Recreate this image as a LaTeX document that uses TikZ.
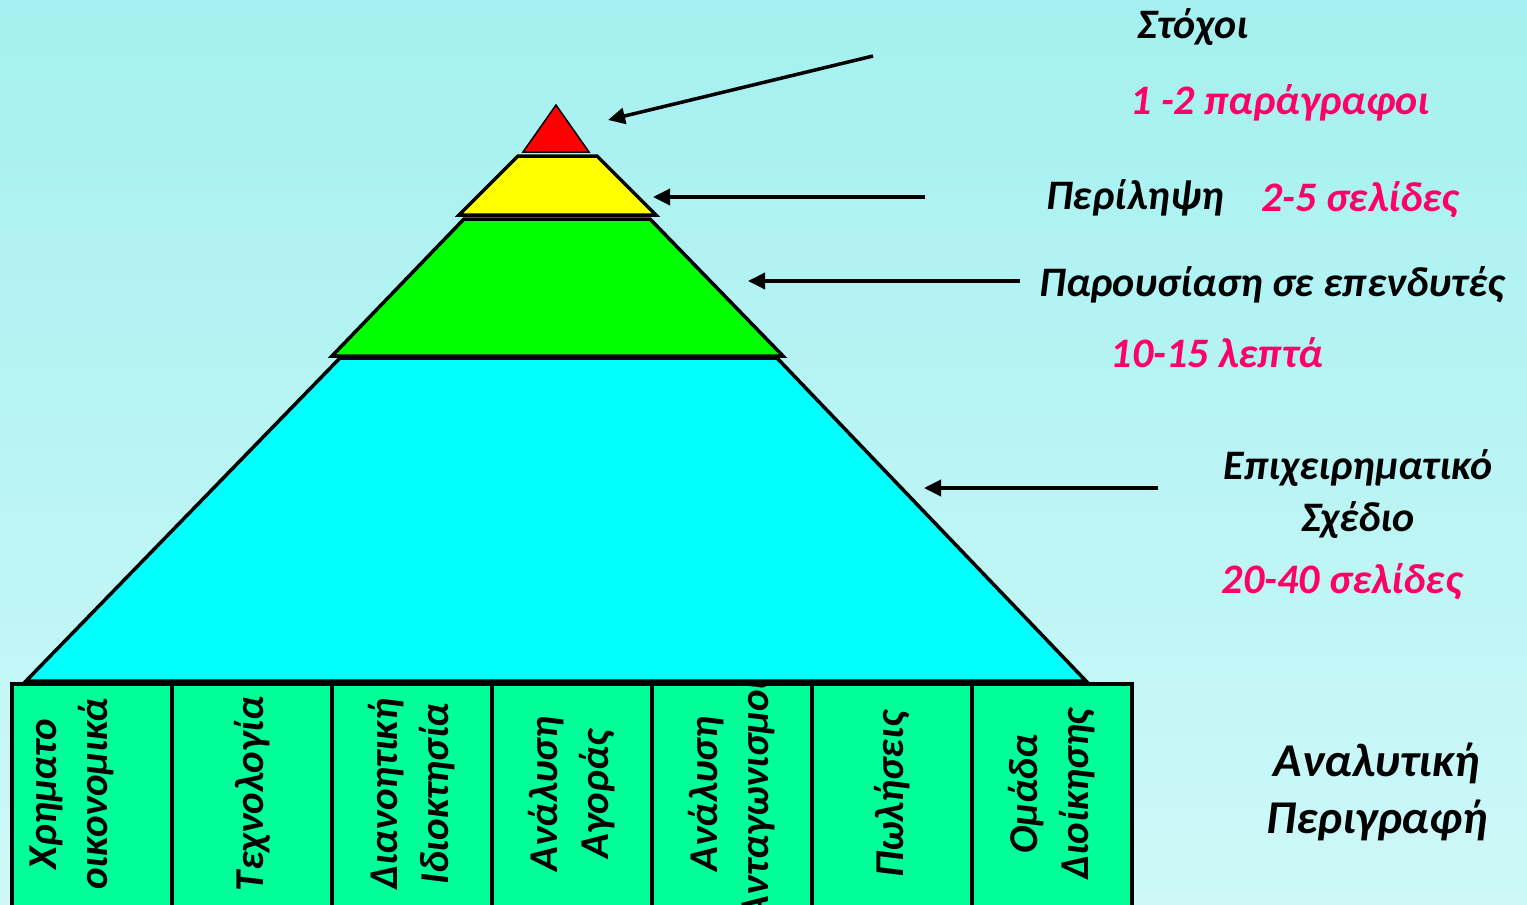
\documentclass[tikz,border=0pt]{standalone}
\usepackage{fontspec}
\setmainfont{Carlito}
\usetikzlibrary{arrows.meta}
\definecolor{bgtop}{RGB}{165,240,240}
\definecolor{bgbottom}{RGB}{206,248,248}
\definecolor{numpink}{RGB}{255,0,102}
\definecolor{boxgreen}{RGB}{0,255,153}
\definecolor{layercyan}{RGB}{0,255,255}
\definecolor{layergreen}{RGB}{0,255,0}
\definecolor{layeryellow}{RGB}{255,255,0}
\definecolor{layerred}{RGB}{255,0,0}

\begin{document}
\begin{tikzpicture}
   [x=1pt,y=-1pt,
    lbl/.style={font=\fontsize{42}{52}\selectfont\bfseries\itshape,inner sep=0pt,align=center},
    pinklbl/.style={lbl,text=numpink},
    biglbl/.style={lbl,font=\fontsize{47}{57}\selectfont\bfseries\itshape},
    layer/.style={draw=black,line width=3.5pt,line join=miter},
    parttext/.style={rotate=90,align=center,inner sep=0pt,
                     font=\fontsize{41}{51}\selectfont\bfseries\itshape},
    pointer/.style={-{Triangle[length=17pt,width=16pt]},line width=3.5pt}]
   \useasboundingbox (0,0) rectangle (1527,905);
   \shade[top color=bgtop,bottom color=bgbottom] (0,0) rectangle (1527,905);

   % pyramid
   \draw[layer,fill=layercyan] (340,358) -- (777,358) -- (1086,681) -- (26,681) -- cycle;
   \draw[layer,fill=layergreen] (464,219) -- (650,219) -- (783,356) -- (332,356) -- cycle;
   \draw[layer,fill=layeryellow] (518,156) -- (597,156) -- (656,215) -- (459,215) -- cycle;
   \draw[layer,line width=1.5pt,fill=layerred] (556,105) -- (589,152) -- (523,152) -- cycle;

   % detail sections
   \begin{scope}
      \clip (0,0) rectangle (1527,905);
      \foreach \name/\dx [count=\i from 0] in {{Χρηματο\\οικονομικά}/-20,Τεχνολογία/0,
            {Διανοητική\\Ιδιοκτησία}/0,{Ανάλυση\\Αγοράς}/0,{Ανάλυση\\Ανταγωνισμού}/0,
            Πωλήσεις/0,{Ομάδα\\Διοίκησης}/0} {
         \pgfmathsetmacro{\xl}{12+160*\i}
         \pgfmathsetmacro{\xr}{\xl+160}
         \fill[boxgreen] (\xl,684) rectangle (\xr,920);
         \begin{scope}
            \clip (\xl,684) rectangle (\xr,920);
            \node[parttext] (part\i) at ({\xl+80+\dx},794) {\name};
         \end{scope}
         \draw[line width=3.5pt] (\xl,920) -- (\xl,684) -- (\xr,684) -- (\xr,920);
      }
   \end{scope}

   % labels
   \node[lbl] (goals) at (1193,27) {Στόχοι};
   \node[pinklbl] (goalsn) at (1280,103) {1 -2 παράγραφοι};
   \node[lbl] (summary) at (1135,198) {Περίληψη};
   \node[pinklbl] (summaryn) at (1360,200) {2-5 σελίδες};
   \node[lbl] (pitch) at (1272,285) {Παρουσίαση σε επενδυτές};
   \node[pinklbl] (pitchn) at (1217,353) {10-15 λεπτά};
   \node[lbl] (plan) at (1358,494) {Επιχειρηματικό\\Σχέδιο};
   \node[pinklbl] (plann) at (1342,582) {20-40 σελίδες};
   \node[biglbl] (detail) at (1377,792) {Αναλυτική\\Περιγραφή};

   % pointers
   \coordinate (goalstail) at (873,56);
   \coordinate (goalstip) at (608,120);
   \coordinate (summarytail) at (925,197);
   \coordinate (summarytip) at (653,197);
   \coordinate (pitchtail) at (1020,281);
   \coordinate (pitchtip) at (748,281);
   \coordinate (plantail) at (1158,488);
   \coordinate (plantip) at (924,488);
   \draw[pointer] (goalstail) -- (goalstip);
   \draw[pointer] (summarytail) -- (summarytip);
   \draw[pointer] (pitchtail) -- (pitchtip);
   \draw[pointer] (plantail) -- (plantip);
\end{tikzpicture}
\end{document}
